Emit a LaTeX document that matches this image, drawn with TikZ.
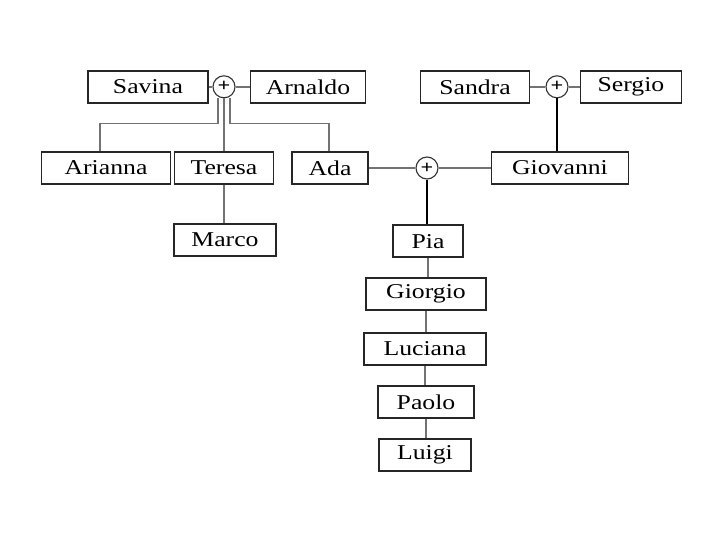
\documentclass[tikz,border=0pt]{standalone}
\usepackage{fontspec}
\setmainfont{Liberation Serif}[FakeStretch=1.22]
\usetikzlibrary{positioning}

\tikzset{
 person/.style={draw=black!85, line width=1.1pt, minimum height=0.8cm, inner sep=2pt,
   font=\fontsize{15}{18}\selectfont},
 couple/.style={draw=black!80, circle, line width=0.8pt, minimum size=0.55cm, inner sep=0pt,
   font=\fontsize{13}{14}\selectfont\bfseries},
 link/.style={draw=black!55, line width=1pt},
 descent/.style={draw=black, line width=1.2pt}
}

\begin{document}
\begin{tikzpicture}
\useasboundingbox (0,0) rectangle (18,-13.5);
\def\ya{-2.17}
\def\yb{-4.2}

% grandparents
\node[person, minimum width=3.0cm]   (savina)  at (3.7,\ya)    {Savina};
\node[couple]                        (p1)      at (5.6,\ya)    {+};
\node[person, minimum width=2.875cm] (arnaldo) at (7.7,\ya)    {Arnaldo};
\node[person, minimum width=2.725cm] (sandra)  at (11.875,\ya) {Sandra};
\node[couple]                        (p2)      at (13.925,\ya) {+};
\node[person, minimum width=2.525cm] (sergio)  at (15.775,\ya) {Sergio};

% second row
\node[person, minimum width=3.225cm] (arianna)  at (2.65,\yb)  {Arianna};
\node[person, minimum width=2.475cm] (teresa)   at (5.6,\yb)   {Teresa};
\node[person, minimum width=1.9cm]   (ada)      at (8.25,\yb)  {Ada};
\node[couple]                        (p3)       at (10.675,\yb) {+};
\node[person, minimum width=3.425cm] (giovanni) at (14.0,\yb)  {Giovanni};
\node[person, minimum width=2.55cm]  (marco)    at (5.625,-6.0) {Marco};

% line of descent
\node[person, minimum width=1.75cm] (pia)     at (10.7,-6.03)   {Pia};
\node[person, minimum width=3.0cm]  (giorgio) at (10.65,-7.35)  {Giorgio};
\node[person, minimum width=3.05cm] (luciana) at (10.625,-8.72) {Luciana};
\node[person, minimum width=2.4cm]  (paolo)   at (10.65,-10.05) {Paolo};
\node[person, minimum width=2.3cm]  (luigi)   at (10.625,-11.37) {Luigi};

% marriages
\draw[link] (savina) -- (p1) -- (arnaldo);
\draw[link] (sandra) -- (p2) -- (sergio);
\draw[link] (ada) -- (p3) -- (giovanni);

% children
\draw[link] ([xshift=-0.15cm]p1.south) -- ++(0,-0.63) -| ([xshift=-0.15cm]arianna.north);
\draw[link] (p1.south) -- (teresa.north);
\draw[link] ([xshift=0.15cm]p1.south) -- ++(0,-0.63) -| ([xshift=-0.03cm]ada.north);
\draw[link] (teresa.south) -- (teresa.south |- marco.north);
\draw[descent] (p2) -- (p2 |- giovanni.north);
\draw[descent] (p3) -- (p3 |- pia.north);
\foreach \a/\b in {pia/giorgio, giorgio/luciana, luciana/paolo, paolo/luigi}
  \draw[link] (\a.south) -- (\a.south |- \b.north);
\end{tikzpicture}
\end{document}
